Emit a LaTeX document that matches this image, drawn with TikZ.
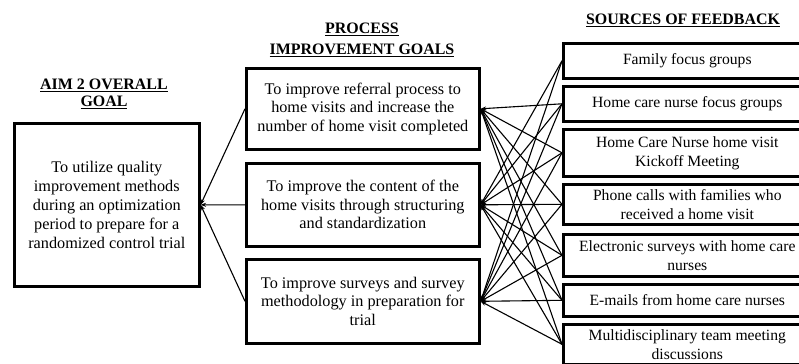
\documentclass[tikz,border=0pt]{standalone}
\usepackage{fontspec}
\setmainfont{Liberation Serif}
\usetikzlibrary{arrows.meta}

\tikzset{
  goalbox/.style={draw=black, line width=2.6bp, rectangle, align=center,
    inner sep=1bp, anchor=north west,
    font=\fontsize{16.3}{18.6}\selectfont},
  srcbox/.style={goalbox, font=\fontsize{15.7}{19}\selectfont},
  heading/.style={align=center, font=\bfseries\fontsize{16}{18}\selectfont},
  link/.style={line width=1.1bp, -{Stealth[length=5.5bp,width=4bp]}}
}

\begin{document}
\begin{tikzpicture}[x=1bp, y=-1bp]
\useasboundingbox (0,0) rectangle (799,363);
\clip (0,0) rectangle (799,363);

% column headings
\node[heading, font=\bfseries\fontsize{16}{17.5}\selectfont] (hAim) at (104,94) {\underline{AIM 2 OVERALL}\\\underline{GOAL}};
\node[heading, font=\bfseries\fontsize{16}{21}\selectfont] (hProc) at (362,40) {\underline{PROCESS}\\\underline{IMPROVEMENT GOALS}};
\node[heading] (hSrc) at (683,20) {\underline{SOURCES OF FEEDBACK}};

% overall goal
\node[goalbox, minimum width=185bp, minimum height=163bp,
      font=\fontsize{16.3}{19}\selectfont] (aim) at (13,122)
  {To utilize quality\\improvement methods\\during an optimization\\period to prepare for a\\randomized control trial};

% process improvement goals
\node[goalbox, minimum width=233bp, minimum height=81bp] (p1) at (245,67)
  {To improve referral process to\\home visits and increase the\\number of home visit completed};
\node[goalbox, minimum width=233bp, minimum height=83bp] (p2) at (245,162)
  {To improve the content of the\\home visits through structuring\\and standardization};
\node[goalbox, minimum width=233bp, minimum height=84bp] (p3) at (245,258)
  {To improve surveys and survey\\methodology in preparation for\\trial};

% sources of feedback (boxes run on past the right edge)
\node[srcbox, minimum width=248bp, minimum height=35bp] (s1) at (562,42) {Family focus groups};
\node[srcbox, minimum width=248bp, minimum height=35bp] (s2) at (562,85) {Home care nurse focus groups};
\node[srcbox, minimum width=248bp, minimum height=47bp] (s3) at (562,128) {Home Care Nurse home visit\\Kickoff Meeting};
\node[srcbox, minimum width=248bp, minimum height=40bp] (s4) at (562,183) {Phone calls with families who\\received a home visit};
\node[srcbox, minimum width=248bp, minimum height=42bp] (s5) at (562,233) {Electronic surveys with home care\\nurses};
\node[srcbox, minimum width=248bp, minimum height=32bp] (s6) at (562,283) {E-mails from home care nurses};
\node[srcbox, minimum width=248bp, minimum height=40bp] (s7) at (562,323) {Multidisciplinary team meeting\\discussions};

% process goals feed the overall goal
\foreach \p in {p1,p2,p3}
  \draw[link] (\p.west) -- (aim.east);

% feedback sources feed the process goals
\foreach \s in {s2,s3,s4,s5,s6,s7}
  \draw[link] (\s.west) -- (p1.east);
\foreach \s in {s1,s2,s3,s4,s5,s6,s7}
  \draw[link] (\s.west) -- (p2.east);
\foreach \s in {s1,s2,s3,s4,s5,s6,s7}
  \draw[link] (\s.west) -- (p3.east);
\end{tikzpicture}
\end{document}
